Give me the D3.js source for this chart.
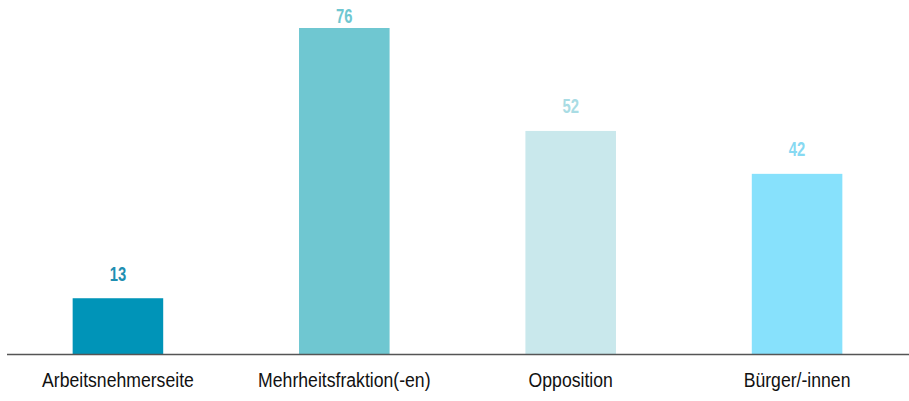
<!DOCTYPE html>
<html>
<head>
<meta charset="utf-8">
<script src="https://cdn.jsdelivr.net/npm/d3@7"></script>
<style>
  body { margin: 0; background: #fff; }
</style>
</head>
<body>
<div id="svg-container"></div>
<script>
var categories = ["Arbeitsnehmerseite", "Mehrheitsfraktion(-en)", "Opposition", "Bürger/-innen"];
var values = [13, 76, 52, 42];
var barColors = ["#0094b8", "#6fc7d1", "#c9e8ec", "#87e1fc"];
var labelColors = ["#1f8fb2", "#6fc7d1", "#a9dce4", "#87d9f2"];

var width = 909,
    height = 401;

var svg = d3.select("#svg-container")
  .append("svg")
    .attr("width", width)
    .attr("height", height)
    .attr("font-family", "'Liberation Sans', Arial, sans-serif")
    .attr("text-anchor", "middle");

var x = d3.scaleBand()
    .domain(categories)
    .range([7, 908])
    .paddingInner(0.6)
    .paddingOuter(0.29);

var y = d3.scaleLinear()
    .domain([0, 76])
    .range([354, 28]);

var data = categories.map(function(c, i) { return {name: c, value: values[i], i: i}; });

svg.selectAll(".bar")
  .data(data)
  .enter().append("rect")
    .attr("class", "bar")
    .attr("x", function(d) { return x(d.name); })
    .attr("y", function(d) { return y(d.value); })
    .attr("width", x.bandwidth())
    .attr("height", function(d) { return y(0) - y(d.value); })
    .style("fill", function(d) { return barColors[d.i]; });

// baseline
svg.append("line")
    .attr("x1", 7)
    .attr("x2", width)
    .attr("y1", y(0) + 0.5)
    .attr("y2", y(0) + 0.5)
    .style("stroke", "#555")
    .style("stroke-width", 1.5);

// value labels (condensed look via horizontal scale)
svg.selectAll(".value")
  .data(data)
  .enter().append("text")
    .attr("class", "value")
    .attr("transform", function(d) {
      var cx = x(d.name) + x.bandwidth() / 2;
      var ty = Math.max(y(d.value) - 17.7, 22.7);
      return "translate(" + cx + "," + ty + ") scale(0.76,1)";
    })
    .style("font-size", "19.5px")
    .style("font-weight", "bold")
    .style("fill", function(d) { return labelColors[d.i]; })
    .text(function(d) { return d.value; });

// category labels
svg.selectAll(".cat")
  .data(data)
  .enter().append("text")
    .attr("class", "cat")
    .attr("transform", function(d) {
      var cx = x(d.name) + x.bandwidth() / 2;
      return "translate(" + cx + ",387.3) scale(0.84,1)";
    })
    .style("font-size", "21px")
    .style("fill", "#111")
    .text(function(d) { return d.name; });
</script>
</body>
</html>
